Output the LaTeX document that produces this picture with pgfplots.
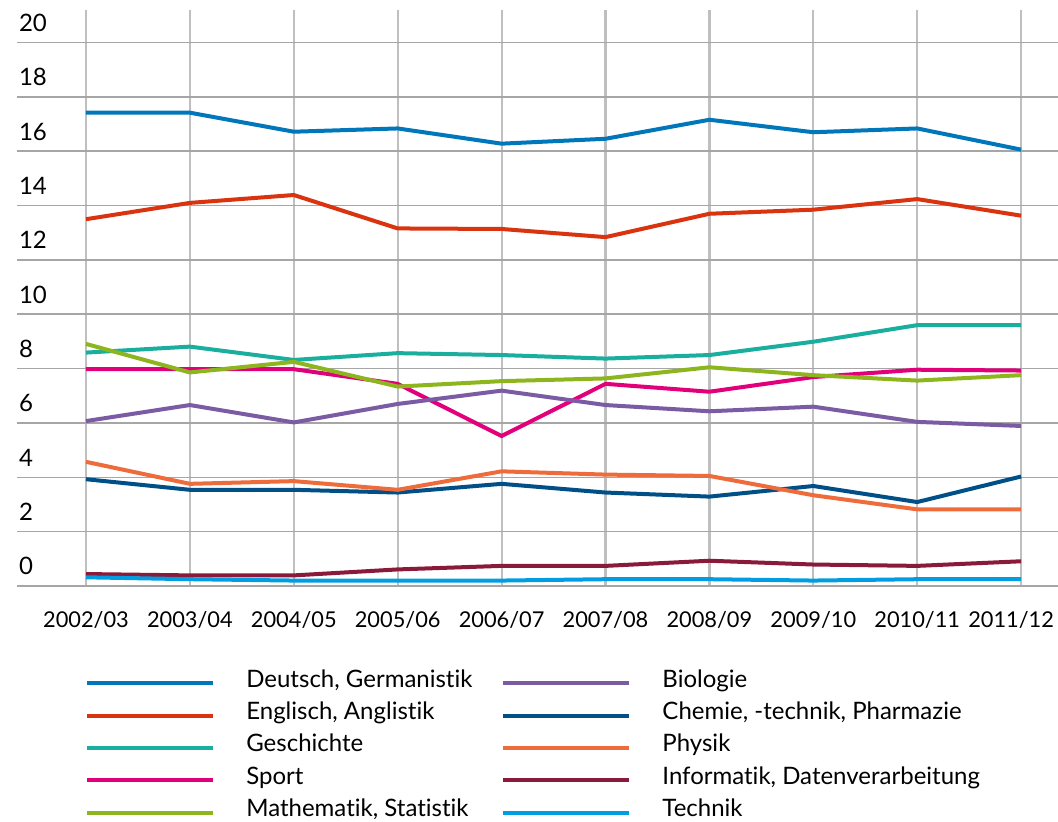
\documentclass[border=0pt]{standalone}
\usepackage{fontspec}
\setmainfont{Lato}[Ligatures={NoCommon}]
\usepackage{pgfplots}
\pgfplotsset{compat=1.18}

\definecolor{cDeutsch}{HTML}{0077BB}
\definecolor{cEnglisch}{HTML}{D9340F}
\definecolor{cGeschichte}{HTML}{1AAE9F}
\definecolor{cSport}{HTML}{E2007A}
\definecolor{cMathe}{HTML}{8DB51E}
\definecolor{cBio}{HTML}{7B5BA4}
\definecolor{cChemie}{HTML}{004F86}
\definecolor{cPhysik}{HTML}{EE6B3B}
\definecolor{cInfo}{HTML}{8A1A3A}
\definecolor{cTechnik}{HTML}{009EE0}

\begin{document}
\begin{tikzpicture}
\path[use as bounding box] (-8.5pt,-118pt) rectangle (520.5pt,293pt);
\begin{axis}[
    at={(0pt,0pt)}, anchor=south west,
    scale only axis,
    width=520.5pt, height=288pt,
    xmin=-0.664, xmax=9.355,
    ymin=0, ymax=21.2,
    axis line style={draw=none},
    major tick length=0pt,
    xtick={0,...,9},
    xticklabels={2002/03,2003/04,2004/05,2005/06,2006/07,2007/08,2008/09,2009/10,2010/11,\hspace*{-10pt}2011/12},
    ytick={0,2,...,20},
    /pgf/number format/assume math mode=true,
    font=\fontsize{12pt}{14pt}\selectfont,
    xticklabel style={anchor=base, yshift=-21pt, font=\fontsize{10.9pt}{13pt}\selectfont},
    yticklabel style={anchor=base west, xshift=-2.5pt, yshift=5.5pt},
    grid=major,
    x grid style={color=black!25, line width=1.1pt},
    y grid style={color=black!35, line width=0.8pt},
    every axis plot/.append style={line width=2pt},
    legend image code/.code={\draw[#1] (0pt,0pt) -- (63pt,0pt);},
    legend cell align=left,
    legend columns=2,
    legend style={draw=none, fill=none, at={(0.0595,-0.133)}, anchor=north west,
        font=\fontsize{12pt}{14pt}\selectfont,
        nodes={inner sep=0pt, text height=10pt, text depth=6.2pt},
        /tikz/every odd column/.append style={column sep=15.5pt},
        /tikz/every even column/.append style={column sep=14.5pt}},
]
\addplot[cDeutsch, forget plot] coordinates {
    (0,17.42) (1,17.42) (2,16.72) (3,16.84) (4,16.28) (5,16.46) (6,17.16) (7,16.70) (8,16.84) (9,16.06)};
\addplot[cEnglisch, forget plot] coordinates {
    (0,13.50) (1,14.10) (2,14.39) (3,13.16) (4,13.14) (5,12.84) (6,13.70) (7,13.85) (8,14.24) (9,13.63)};
\addplot[cGeschichte, forget plot] coordinates {
    (0,8.59) (1,8.81) (2,8.32) (3,8.57) (4,8.50) (5,8.37) (6,8.50) (7,8.99) (8,9.60) (9,9.60)};
\addplot[cSport, forget plot] coordinates {
    (0,7.98) (1,7.98) (2,7.98) (3,7.44) (4,5.52) (5,7.44) (6,7.15) (7,7.69) (8,7.96) (9,7.93)};
\addplot[cMathe, forget plot] coordinates {
    (0,8.91) (1,7.86) (2,8.25) (3,7.34) (4,7.54) (5,7.64) (6,8.05) (7,7.76) (8,7.56) (9,7.76)};
\addplot[cBio, forget plot] coordinates {
    (0,6.07) (1,6.66) (2,6.02) (3,6.70) (4,7.19) (5,6.66) (6,6.43) (7,6.60) (8,6.04) (9,5.89)};
\addplot[cChemie, forget plot] coordinates {
    (0,3.93) (1,3.54) (2,3.54) (3,3.44) (4,3.76) (5,3.44) (6,3.29) (7,3.68) (8,3.09) (9,4.03)};
\addplot[cPhysik, forget plot] coordinates {
    (0,4.57) (1,3.76) (2,3.86) (3,3.54) (4,4.22) (5,4.10) (6,4.05) (7,3.34) (8,2.82) (9,2.82)};
\addplot[cInfo, forget plot] coordinates {
    (0,0.44) (1,0.39) (2,0.39) (3,0.61) (4,0.74) (5,0.74) (6,0.93) (7,0.79) (8,0.74) (9,0.91)};
\addplot[cTechnik, forget plot] coordinates {
    (0,0.32) (1,0.25) (2,0.20) (3,0.20) (4,0.20) (5,0.25) (6,0.25) (7,0.20) (8,0.25) (9,0.25)};

% legend filled row by row, so that it reads column by column
\addlegendimage{cDeutsch, line width=2pt}\addlegendentry{Deutsch, Germanistik}
\addlegendimage{cBio, line width=2pt}\addlegendentry{Biologie}
\addlegendimage{cEnglisch, line width=2pt}\addlegendentry{Englisch, Anglistik}
\addlegendimage{cChemie, line width=2pt}\addlegendentry{Chemie, -technik, Pharmazie}
\addlegendimage{cGeschichte, line width=2pt}\addlegendentry{Geschichte}
\addlegendimage{cPhysik, line width=2pt}\addlegendentry{Physik}
\addlegendimage{cSport, line width=2pt}\addlegendentry{Sport}
\addlegendimage{cInfo, line width=2pt}\addlegendentry{Informatik, Datenverarbeitung}
\addlegendimage{cMathe, line width=2pt}\addlegendentry{Mathematik, Statistik}
\addlegendimage{cTechnik, line width=2pt}\addlegendentry{Technik}
\end{axis}
\end{tikzpicture}
\end{document}
